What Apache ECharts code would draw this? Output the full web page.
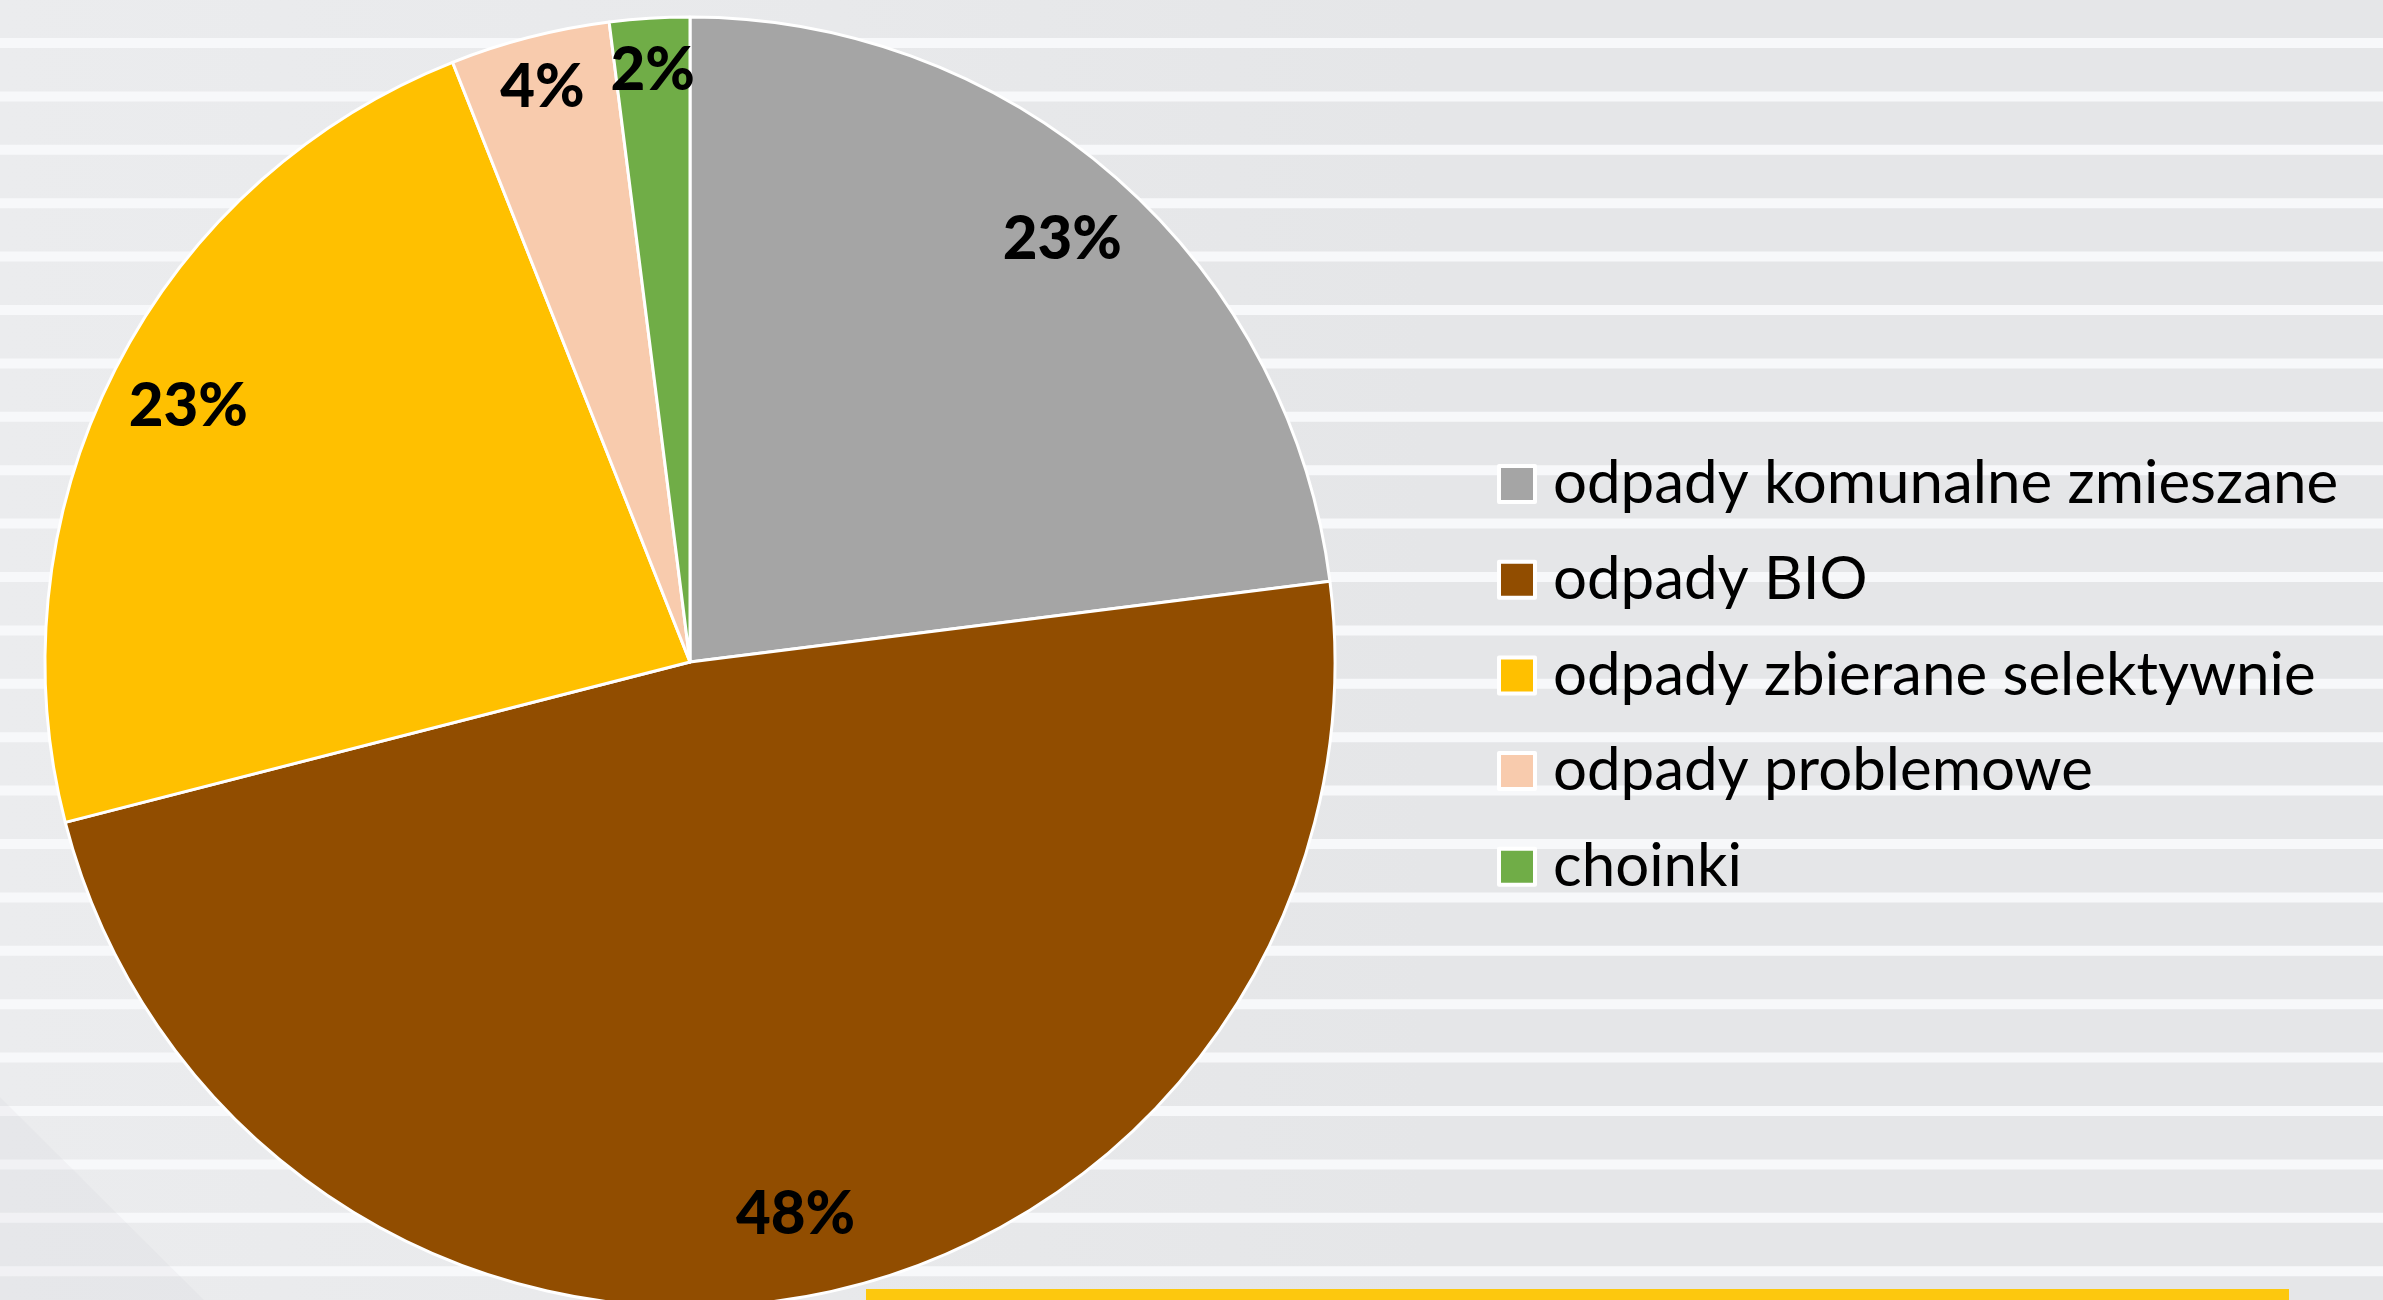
<!DOCTYPE html>
<html>
<head>
<meta charset="utf-8">
<title>Struktura odpadów</title>
<script src="https://cdn.jsdelivr.net/npm/echarts@6/dist/echarts.min.js"></script>
<style>
  html, body { margin: 0; padding: 0; background: #E6E7E9; }
  #chart { width: 2383px; height: 1300px; }
</style>
</head>
<body>
<div id="chart"></div>
<script>
// Waste categories and their share (%)
const categories = [
  'odpady komunalne zmieszane',
  'odpady BIO',
  'odpady zbierane selektywnie',
  'odpady problemowe',
  'choinki'
];
const shares = [23, 48, 23, 4, 2];
const palette = ['#A5A5A5', '#914D00', '#FFC000', '#F8CBAD', '#70AD47'];

const W = 2383, H = 1300;
const center = [690, 662];
const R = 645;

// striped backdrop
const backdrop = [
  {
    type: 'rect', shape: { x: 0, y: 0, width: W, height: H },
    style: {
      fill: new echarts.graphic.LinearGradient(0, 0, 1, 0, [
        { offset: 0, color: '#EBECEE' },
        { offset: 0.35, color: '#E8E9EB' },
        { offset: 0.6, color: '#E5E6E8' },
        { offset: 1, color: '#E5E6E8' }
      ])
    },
    silent: true
  }
];
for (let y = 38; y < H; y += 53.4) {
  backdrop.push({
    type: 'rect', shape: { x: 0, y: y, width: W, height: 10 },
    style: { fill: '#F7F8FA' }, silent: true
  });
}
// soft diagonal shade in the lower-left corner
backdrop.push({
  type: 'polygon',
  shape: { points: [[0, 1097], [204, H], [0, H]] },
  style: { fill: 'rgba(200,201,205,0.12)' }, silent: true
});
// accent bar along the bottom edge
backdrop.push({
  type: 'rect', shape: { x: 866, y: 1289, width: 1423, height: 11 },
  style: { fill: '#FDC80E' }, silent: true
});

const pieData = categories.map((name, i) => ({
  name: name,
  value: shares[i],
  itemStyle: { color: palette[i] }
}));

// transparent ring that only carries percentage labels; narrow slices
// get their label a little closer to the rim
function labelRing(r0, r1, narrow) {
  return {
    type: 'pie',
    center: center,
    radius: [r0, r1],
    startAngle: 90,
    clockwise: true,
    silent: true,
    legendHoverLink: false,
    data: categories.map((name, i) => ({
      name: name,
      value: shares[i],
      label: { show: (shares[i] < 5) === narrow }
    })),
    itemStyle: { color: 'rgba(0,0,0,0)', borderWidth: 0 },
    label: {
      position: 'inside',
      formatter: '{d}%',
      fontFamily: 'Lato',
      fontWeight: 900,
      fontSize: 60,
      color: '#000000'
    },
    labelLine: { show: false },
    emphasis: { disabled: true }
  };
}

const chart = echarts.init(document.getElementById('chart'), null, { renderer: 'canvas' });
chart.setOption({
  animation: false,
  backgroundColor: 'transparent',
  graphic: { elements: backdrop },
  legend: {
    orient: 'vertical',
    left: 1497,
    top: 449,
    padding: 0,
    data: categories,
    icon: 'rect',
    itemWidth: 36,
    itemHeight: 36,
    itemGap: 25.7,
    itemStyle: { borderColor: '#FFFFFF', borderWidth: 4 },
    textStyle: {
      fontFamily: 'Lato',
      fontSize: 60,
      color: '#000000',
      lineHeight: 70,
      padding: [0, 0, 0, 13]
    },
    selectedMode: false
  },
  series: [
    {
      name: 'udział',
      type: 'pie',
      center: center,
      radius: [0, R],
      startAngle: 90,
      clockwise: true,
      data: pieData,
      itemStyle: { borderColor: '#FFFFFF', borderWidth: 3 },
      label: { show: false },
      labelLine: { show: false },
      emphasis: { disabled: true }
    },
    labelRing(480, 640, false),
    labelRing(540, 640, true)
  ]
});
</script>
</body>
</html>
